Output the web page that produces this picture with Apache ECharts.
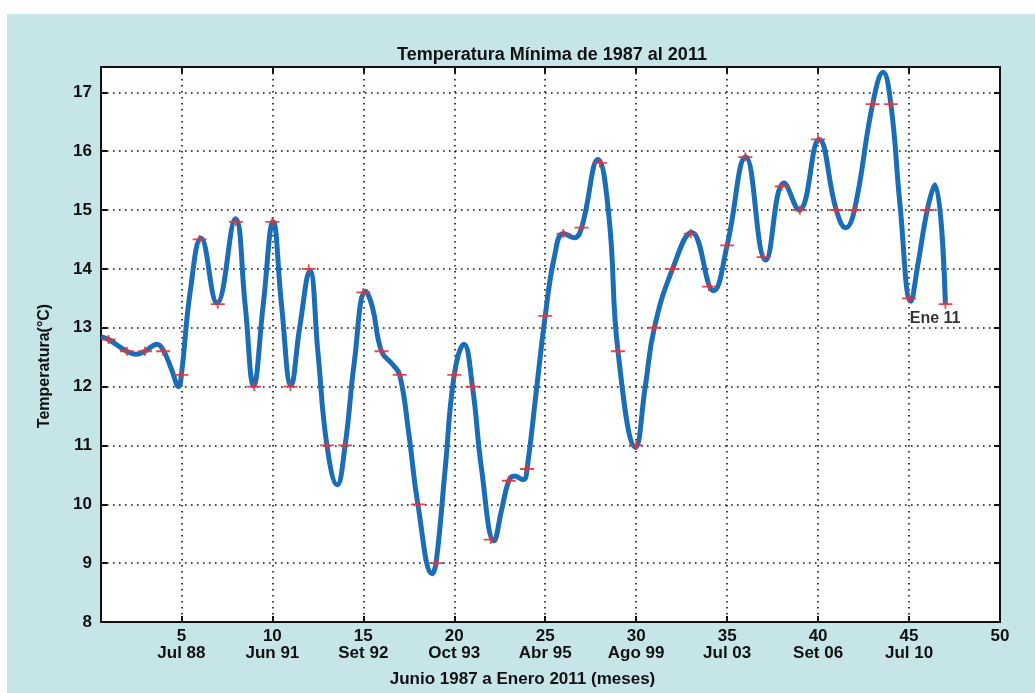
<!DOCTYPE html>
<html>
<head>
<meta charset="utf-8">
<script src="https://cdn.jsdelivr.net/npm/echarts@6/dist/echarts.min.js"></script>
<style>
  html, body { margin: 0; padding: 0; background: #ffffff; width: 1035px; height: 693px; overflow: hidden; }
  #chart { position: absolute; left: 7px; top: 14px; width: 1028px; height: 679px; background: #c6e5e9; }
</style>
</head>
<body>
<div id="chart"></div>
<script>
// Month index (x) of each monthly minimum-temperature sample (red markers)
const monthIndex = [1,2,3,4,5,6,7,8,9,10,11,12,13,14,15,16,17,18,19,20,21,22,23,24,25,26,27,28,29,30,31,32,33,34,35,36,37,38,39,40,41,42,43,44,45,46,47];
// Minimum temperature values (°C) at the markers
const minTemp = [12.8,12.6,12.6,12.6,12.2,14.5,13.4,14.8,12.0,14.8,12.0,14.0,11.0,11.0,13.6,12.6,12.2,10.0,9.0,12.2,12.0,9.4,10.4,10.6,13.2,14.6,14.7,15.8,12.6,11.0,13.0,14.0,14.6,13.7,14.4,15.9,14.2,15.4,15.0,16.2,15.0,15.0,16.8,16.8,13.5,15.0,13.4];
// Points (x, °C), including its peaks and troughs
const curveX = [0.58,1,2,2.5,3,3.66,4,4.45,4.85,5,5.5,6.08,6.96,7.97,8.5,8.97,9.5,10.04,10.5,11.03,11.5,12.06,12.5,13,13.56,14,14.5,15.12,15.5,16,16.6,17,17.5,18,18.79,19,19.5,20,20.53,21,21.5,22.19,22.6,23,23.3,23.8,24,24.5,25,25.5,26,26.6,27,27.9,28.5,29,29.97,30.5,31,32,33.05,34.25,35,36.02,37.12,38.13,38.96,40.05,41,41.52,42,43,43.57,44,44.5,45.1,45.5,46,46.42,47];
const curveY = [12.85,12.8,12.6,12.55,12.6,12.72,12.62,12.3,12.0,12.2,13.65,14.52,13.42,14.85,13.4,12.02,13.4,14.8,13.4,12.02,13.0,13.97,12.6,11.0,10.33,11.0,12.4,13.62,13.35,12.6,12.38,12.2,11.2,10.0,8.82,9.0,10.6,12.2,12.72,12.0,10.6,9.38,9.9,10.4,10.48,10.42,10.6,11.9,13.2,14.2,14.6,14.53,14.7,15.86,14.9,12.6,10.97,12.0,13.0,14.0,14.62,13.63,14.4,15.9,14.15,15.46,15.0,16.2,15.0,14.7,15.0,16.8,17.34,16.8,15.1,13.45,14.1,15.0,15.43,13.4];
// X tick values and the date labels printed under them
const xTicks = [5,10,15,20,25,30,35,40,45,50];
const xTickDates = ['Jul 88','Jun 91','Set 92','Oct 93','Abr 95','Ago 99','Jul 03','Set 06','Jul 10',''];
// Y tick values
const yTicks = [8,9,10,11,12,13,14,15,16,17];
// Text annotation
const noteX = 45.04, noteY = 13.16, noteText = 'Ene 11';

const chart = echarts.init(document.getElementById('chart'), null, { renderer: 'canvas' });

const markerPts = monthIndex.map((x, i) => [x, minTemp[i]]);
const curvePts = curveX.map((x, i) => [x, curveY[i]]);

const FONT = 'Liberation Sans';
const gridDash = { color: '#111', width: 1.6, type: [1.6, 4.4] };

function xLabel(v) {
  const i = xTicks.indexOf(Math.round(v * 100) / 100);
  if (i < 0) return '';
  return xTicks[i] + (xTickDates[i] ? '\n' + xTickDates[i] : '');
}

const edgeAxis = { show: true, onZero: false, lineStyle: { color: '#111', width: 2 } };

const option = {
  backgroundColor: 'transparent',
  animation: false,
  title: {
    text: 'Temperatura Mínima de 1987 al 2011',
    left: 540, top: 27, textAlign: 'center',
    textStyle: { fontFamily: FONT, fontSize: 18, fontWeight: 'bold', color: '#111' }
  },
  graphic: [{
    type: 'text', x: 38, y: 352, rotation: Math.PI / 2,
    style: { text: 'Temperatura(°C)', fontFamily: FONT, fontSize: 16, fontWeight: 'bold', fill: '#111', align: 'center', verticalAlign: 'middle' }
  }],
  grid: { left: 94, right: 35, top: 53, bottom: 56, show: true, backgroundColor: '#ffffff', borderWidth: 0 },
  xAxis: [{
    type: 'value', min: 0.58, max: 50, position: 'bottom',
    axisLine: edgeAxis,
    axisTick: { show: true, inside: true, length: 6, customValues: xTicks, lineStyle: { color: '#111', width: 2 } },
    axisLabel: { customValues: xTicks, formatter: xLabel, margin: 6, lineHeight: 17, fontFamily: FONT, fontSize: 17, fontWeight: 'bold', color: '#111' },
    splitLine: { show: true, lineStyle: gridDash },
    name: 'Junio 1987 a Enero 2011 (meses)', nameLocation: 'middle', nameGap: 49,
    nameTextStyle: { fontFamily: FONT, fontSize: 17, fontWeight: 'bold', color: '#111', padding: [0, 56, 0, 0] }
  }, {
    type: 'value', min: 0.58, max: 50, position: 'top',
    axisLine: edgeAxis,
    axisTick: { show: true, inside: true, length: 6, customValues: xTicks, lineStyle: { color: '#111', width: 2 } },
    axisLabel: { show: false }, splitLine: { show: false }
  }],
  yAxis: [{
    type: 'value', min: 8, max: 17.43, position: 'left',
    axisLine: edgeAxis,
    axisTick: { show: true, inside: true, length: 6, customValues: yTicks, lineStyle: { color: '#111', width: 2 } },
    axisLabel: { customValues: yTicks, margin: 9, fontFamily: FONT, fontSize: 17, fontWeight: 'bold', color: '#111' },
    splitLine: { show: true, lineStyle: gridDash }
  }, {
    type: 'value', min: 8, max: 17.43, position: 'right',
    axisLine: edgeAxis,
    axisTick: { show: true, inside: true, length: 6, customValues: yTicks, lineStyle: { color: '#111', width: 2 } },
    axisLabel: { show: false }, splitLine: { show: false }
  }],
  series: [{
    type: 'line', data: curvePts, smooth: 0.45, showSymbol: false, symbol: 'none',
    lineStyle: { color: '#1b6db5', width: 5 }, z: 3, silent: true
  }, {
    type: 'scatter', data: markerPts,
    symbol: 'path://M0,3.6H14V5.4H0Z M6.1,0H7.9V9H6.1Z', symbolSize: [14, 9], symbolKeepAspect: false,
    itemStyle: { color: '#e3343a', opacity: 0.9 }, z: 4, silent: true
  }, {
    type: 'scatter', data: [[noteX, noteY]], symbolSize: 0, z: 5, silent: true,
    label: { show: true, position: 'right', distance: 0, formatter: noteText, fontFamily: FONT, fontSize: 16, fontWeight: 'bold', color: '#000', textBorderWidth: 0 }
  }]
};
chart.setOption(option);
</script>
</body>
</html>
